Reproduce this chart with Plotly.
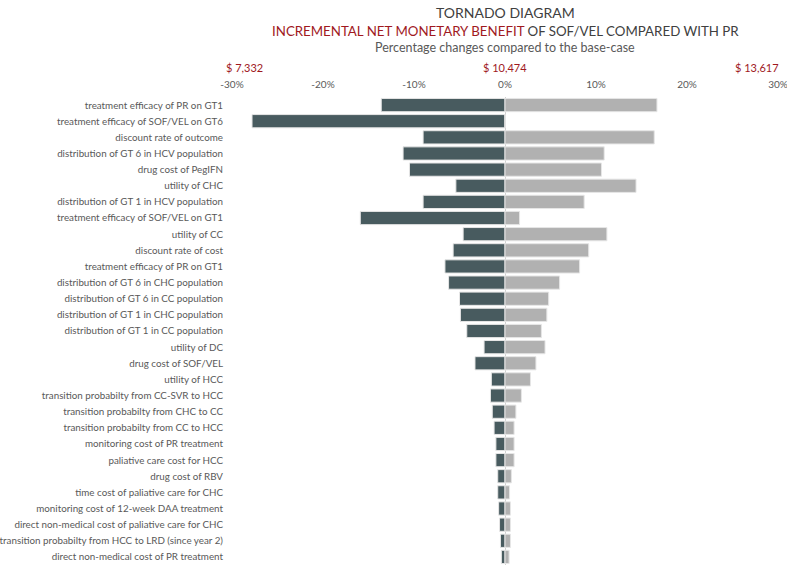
import plotly.graph_objects as go

categories = [
    "treatment efficacy of PR on GT1",
    "treatment efficacy of SOF/VEL on GT6",
    "discount rate of outcome",
    "distribution of GT 6 in HCV population",
    "drug cost of PegIFN",
    "utility of CHC",
    "distribution of GT 1 in HCV population",
    "treatment efficacy of SOF/VEL on GT1",
    "utility of CC",
    "discount rate of cost",
    "treatment efficacy of PR on GT1",
    "distribution of GT 6 in CHC population",
    "distribution of GT 6 in CC population",
    "distribution of GT 1 in CHC population",
    "distribution of GT 1 in CC population",
    "utility of DC",
    "drug cost of SOF/VEL",
    "utility of HCC",
    "transition probabilty from CC-SVR to HCC",
    "transition probabilty from CHC to CC",
    "transition probabilty from CC to HCC",
    "monitoring cost of PR treatment",
    "paliative care cost for HCC",
    "drug cost of RBV",
    "time cost of paliative care for CHC",
    "monitoring cost of 12-week DAA treatment",
    "direct non-medical cost of paliative care for CHC",
    "transition probabilty from HCC to LRD (since year 2)",
    "direct non-medical cost of PR treatment",
]

low_change = [-13.6, -27.8, -9.0, -11.2, -10.5, -5.4, -9.0, -15.9, -4.6, -5.7,
              -6.6, -6.2, -5.0, -4.9, -4.2, -2.3, -3.3, -1.5, -1.6, -1.4,
              -1.2, -1.0, -1.0, -0.8, -0.8, -0.7, -0.6, -0.5, -0.4]
high_change = [16.7, 0.0, 16.4, 10.9, 10.6, 14.4, 8.7, 1.6, 11.2, 9.2,
               8.2, 6.0, 4.8, 4.6, 4.0, 4.4, 3.4, 2.8, 1.8, 1.2,
               1.0, 1.0, 1.0, 0.7, 0.5, 0.6, 0.6, 0.6, 0.45]

x_ticks = [-30, -20, -10, 0, 10, 20, 30]
money_labels = ["$ 7,332", "$ 10,474", "$ 13,617"]
money_positions = [-30, 0, 30]

RED = "#A0191E"
GRAY_TXT = "#595959"
DARK = "#485B5F"
LIGHT = "#B1B1B1"
FONT = "Lato"

ypos = list(range(len(categories)))

fig = go.Figure()
fig.add_trace(go.Bar(
    y=ypos, x=low_change, orientation="h",
    marker=dict(color=DARK, line=dict(color="#E6E6E6", width=1)),
    width=0.82, showlegend=False, hoverinfo="x+y",
))
fig.add_trace(go.Bar(
    y=ypos, x=high_change, orientation="h",
    marker=dict(color=LIGHT, line=dict(color="#E6E6E6", width=1)),
    width=0.82, showlegend=False, hoverinfo="x+y",
))

fig.update_layout(
    width=787, height=566,
    barmode="overlay",
    plot_bgcolor="white", paper_bgcolor="white",
    margin=dict(l=232, r=9, t=97, b=1, autoexpand=False),
    font=dict(family=FONT, color=GRAY_TXT, size=10),
    xaxis=dict(
        side="top", range=[-30, 30], tickvals=x_ticks,
        ticktext=[f"{v}%" for v in x_ticks],
        showgrid=False, zeroline=True, zerolinecolor="#D0D0D0", zerolinewidth=1,
        showline=False, ticks="", tickfont=dict(size=10, color=GRAY_TXT),
        ticklabelstandoff=6, automargin=False, ticklabeloverflow="allow",
    ),
    yaxis=dict(
        range=[len(categories) - 0.5, -0.5],
        tickvals=ypos, ticktext=categories,
        showgrid=False, zeroline=False, showline=False, ticks="",
        tickfont=dict(size=9.8, color=GRAY_TXT), ticklabelstandoff=8,
        automargin=False, ticklabeloverflow="allow",
    ),
)

fig.add_annotation(text="TORNADO DIAGRAM", xref="x", x=0, yref="paper", y=1,
                   yanchor="middle", yshift=85, showarrow=False,
                   font=dict(size=14, color="#404040"))
fig.add_annotation(
    text=f"<span style='color:{RED}'>INCREMENTAL NET MONETARY BENEFIT</span> OF SOF/VEL COMPARED WITH PR",
    xref="x", x=0, yref="paper", y=1, yanchor="middle", yshift=66, showarrow=False,
    font=dict(size=13.3, color="#404040"))
fig.add_annotation(text="Percentage changes compared to the base-case", xref="x", x=0,
                   yref="paper", y=1, yanchor="middle", yshift=50, showarrow=False,
                   font=dict(size=12.5, color=GRAY_TXT))
anchors = ["left", "center", "right"]
shifts = [-8, 0, 3]
for lab, pos, anc, sh in zip(money_labels, money_positions, anchors, shifts):
    fig.add_annotation(text=lab, xref="x", x=pos, yref="paper", y=1, yshift=30,
                       xanchor=anc, yanchor="middle", xshift=sh, showarrow=False,
                       font=dict(size=11, color=RED))

# remove the browser's default body margin so the figure fills the window
fig.write_html("out.html", config={"displayModeBar": False},
               post_script="document.body.style.margin='0';")
